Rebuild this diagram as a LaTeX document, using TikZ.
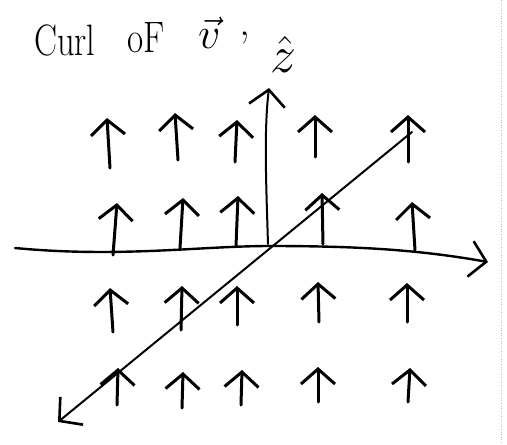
\RequirePackage{fix-cm}
\documentclass[tikz,border=0pt]{standalone}
\usetikzlibrary{arrows.meta}
\begin{document}
\begin{tikzpicture}[x=1pt,y=-1pt,
  fieldarrow/.style={line width=3pt,line cap=round,
    -{Straight Barb[length=15pt,width=34pt,line width=3pt]}},
  axisline/.style={line width=2.4pt,line cap=round,
    -{Straight Barb[length=16pt,width=36pt,line width=2.6pt]}},
  handtext/.style={inner sep=0pt,font=\fontsize{44}{50}\selectfont}]
\useasboundingbox (0,0) rectangle (507,445);
% scan edge
\draw[gray!50,line width=0.6pt,dotted] (501,0) -- (501,445);
% title
\node[handtext,anchor=base west] (t1) at (34,55) {\scalebox{0.78}[1]{Curl}};
\node[handtext,anchor=base west] (t2) at (127,52) {\scalebox{0.8}[1]{oF}};
\node[handtext,anchor=base west] (t3) at (198,48) {$\vec{v}$};
\node[handtext,anchor=base west] (t4) at (239,35) {,};
\node[inner sep=0pt,font=\fontsize{52}{56}\selectfont] (zlab) at (283,54) {$\hat{z}$};
% axes
\coordinate (xl) at (15,248);
\coordinate (o) at (270,246);
\coordinate (xr) at (488,262);
\coordinate (zb) at (268,244);
\coordinate (zt) at (269,88);
\coordinate (dtop) at (412,132);
\coordinate (dbot) at (58,422);
\draw[axisline] (xl) .. controls (120,258) and (200,246) .. (o)
  .. controls (360,246) and (420,250) .. (xr);
\draw[axisline,line width=2pt] (zb) .. controls (266,180) and (264,130) .. (zt);
\draw[axisline,line width=2pt] (dtop) -- (dbot);
% field arrows
\foreach \n/\bx/\by/\tx/\ty in {
  a1/110/168/107/118, a2/178/160/175/113, a3/235/162/237/120, a4/315/157/315/115, a5/408/162/408/115,
  b1/113/255/117/203, b2/180/248/183/198, b3/236/246/238/196, b4/323/244/322/193, b5/415/250/412/202,
  c1/113/332/110/288, c2/181/330/182/286, c3/237/325/237/286, c4/319/322/318/282, c5/407/322/407/283,
  d1/117/405/118/368, d2/182/408/183/372, d3/241/405/242/370, d4/318/402/318/367, d5/408/402/410/368}{
  \coordinate (\n s) at (\bx,\by);
  \coordinate (\n e) at (\tx,\ty);
  \draw[fieldarrow] (\n s) -- (\n e);
}
\end{tikzpicture}
\end{document}
